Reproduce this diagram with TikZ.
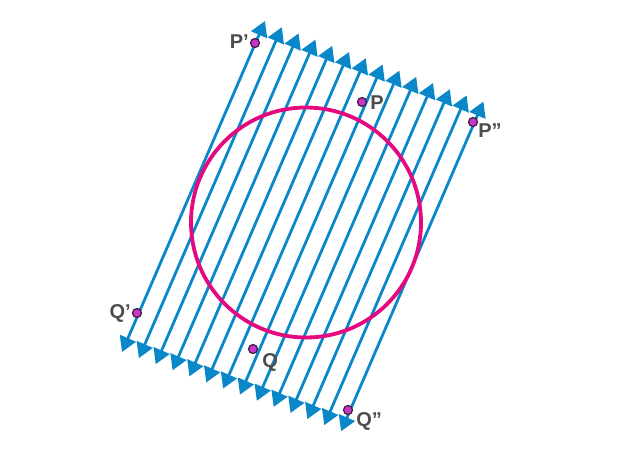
\documentclass[tikz,border=0pt]{standalone}
\usepackage{fontspec}
\setmainfont{Liberation Sans}
\usetikzlibrary{arrows.meta}
\definecolor{rayblue}{HTML}{0A87C8}
\definecolor{ringpink}{HTML}{E5097F}
\definecolor{dotfill}{HTML}{C935C9}
\definecolor{dotline}{HTML}{3A1E3A}
\definecolor{labgray}{HTML}{4D4D4D}
\tikzset{
  ray/.style={rayblue, line width=2.8pt, {Triangle[length=15pt,width=17pt]}-{Triangle[length=15pt,width=17pt]}},
  ring/.style={ringpink, line width=3.8pt},
  pt/.style={circle, fill=dotfill, draw=dotline, line width=1.2pt, inner sep=0pt, minimum size=9pt},
  lab/.style={text=labgray, font=\fontsize{20}{20}\selectfont\bfseries, inner sep=1pt}
}
\begin{document}
\begin{tikzpicture}[x=1pt,y=-1pt]
\useasboundingbox (0,0) rectangle (623,450);
\foreach \i in {0,...,13}{
  \coordinate (b\i) at ({122+16.85*\i},{352+6.1*\i});
  \coordinate (t\i) at ({265+16.8*\i},{21+6.2*\i});
  \draw[ray] (b\i) -- (t\i);
}
\node[circle, minimum size=230pt, inner sep=0pt] (c) at (306,222.5) {};
\draw[ring] (c.center) circle[radius=115];
\node[pt] (Pp) at (255,43) {};
\node[pt] (P) at (362,102) {};
\node[pt] (Ppp) at (473,122) {};
\node[pt] (Qp) at (137,313) {};
\node[pt] (Q) at (253,349) {};
\node[pt] (Qpp) at (348,410) {};
\node[lab, anchor=east] at ([xshift=0pt,yshift=1pt]Pp.west) {P’};
\node[lab, anchor=west] at ([xshift=2pt,yshift=-1pt]P.east) {P};
\node[lab, anchor=north west] at ([xshift=-1pt,yshift=-1pt]Ppp.east) {P”};
\node[lab, anchor=east] at ([xshift=0pt]Qp.west) {Q’};
\node[lab, anchor=north west] at ([xshift=3pt,yshift=-3pt]Q.east) {Q};
\node[lab, anchor=north west] at ([xshift=2pt,yshift=-1pt]Qpp.east) {Q”};
\end{tikzpicture}
\end{document}
